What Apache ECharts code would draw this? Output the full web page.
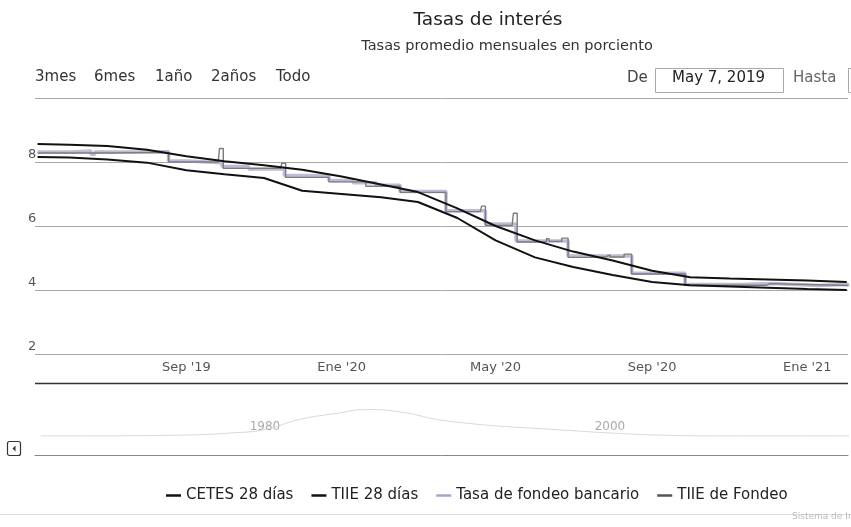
<!DOCTYPE html>
<html>
<head>
<meta charset="utf-8">
<script src="https://cdn.jsdelivr.net/npm/echarts@6/dist/echarts.min.js"></script>
<style>
html,body{margin:0;padding:0;background:#fff;}
#c{width:851px;height:527px;}
</style>
</head>
<body>
<div id="c"></div>
<script>
// ---- data ----
var seriesNames = ['CETES 28 días', 'TIIE 28 días', 'Tasa de fondeo bancario', 'TIIE de Fondeo'];

var cetesDates = ['2019-05-07','2019-06-01','2019-07-01','2019-08-01','2019-09-01','2019-10-01','2019-11-01','2019-12-01','2020-01-01','2020-02-01','2020-03-01','2020-04-01','2020-05-01','2020-06-01','2020-07-01','2020-08-01','2020-09-01','2020-10-01','2020-11-01','2020-12-01','2021-01-01','2021-02-01'];
var cetesValues = [8.16,8.14,8.08,7.98,7.74,7.62,7.50,7.10,7.00,6.90,6.75,6.25,5.55,5.02,4.72,4.47,4.25,4.15,4.11,4.07,4.03,4.00];

var tiie28Dates = ['2019-05-07','2019-06-01','2019-07-01','2019-08-01','2019-09-01','2019-10-01','2019-11-01','2019-12-01','2020-01-01','2020-02-01','2020-03-01','2020-04-01','2020-05-01','2020-06-01','2020-07-01','2020-08-01','2020-09-01','2020-10-01','2020-11-01','2020-12-01','2021-01-01','2021-02-01'];
var tiie28Values = [8.56,8.54,8.50,8.38,8.18,8.02,7.90,7.76,7.55,7.30,7.06,6.55,6.00,5.55,5.20,4.92,4.60,4.40,4.36,4.33,4.30,4.25];

var bancarioDates = ['2019-05-07','2019-06-03','2019-06-18','2019-06-21','2019-07-15','2019-08-18','2019-09-02','2019-09-29','2019-10-20','2019-11-17','2019-12-02','2019-12-22','2020-01-10','2020-01-28','2020-02-16','2020-03-23','2020-04-23','2020-05-17','2020-06-27','2020-08-16','2020-09-27','2020-11-10','2020-12-05','2021-01-10','2021-02-02'];
var bancarioValues = [8.31,8.34,8.24,8.31,8.32,8.03,7.98,7.86,7.78,7.58,7.56,7.42,7.35,7.27,7.08,6.48,6.06,5.53,5.06,4.52,4.17,4.20,4.14,4.18,4.12];

var tiieFondeoDates = ['2019-05-07','2019-07-01','2019-08-18','2019-09-26','2019-09-27','2019-09-30','2019-11-14','2019-11-15','2019-11-18','2019-12-22','2020-01-20','2020-02-16','2020-03-23','2020-04-19','2020-04-20','2020-04-23','2020-05-14','2020-05-15','2020-05-18','2020-06-08','2020-06-10','2020-06-12','2020-06-22','2020-06-27','2020-07-20','2020-07-27','2020-07-30','2020-08-10','2020-08-16','2020-09-27','2020-11-30','2020-12-03','2021-02-02'];
var tiieFondeoValues = [8.28,8.30,8.00,8.01,8.42,7.80,7.74,7.96,7.52,7.38,7.24,7.05,6.45,6.45,6.62,6.02,6.02,6.40,5.50,5.52,5.60,5.52,5.62,5.02,5.04,5.10,5.03,5.12,4.50,4.15,4.20,4.14,4.13];

var xTickDates = ['2019-09-01','2020-01-01','2020-05-01','2020-09-01','2021-01-01'];
var xTickLabels = ["Sep '19", "Ene '20", "May '20", "Sep '20", "Ene '21"];
var yTickValues = [2, 4, 6, 8, 10];

var navYears = [1967,1970,1975,1978,1980,1982,1984,1986,1988,1990,1992,1994,1996,1998,2000,2003,2006,2010,2014];
var navValues = [27,27,28,31,36,50,58,64,60,50,44,40,37,34,31,28,27,27,27];
var navTickValues = [1980, 2000];

var rangeButtons = ['3mes', '6mes', '1año', '2años', 'Todo'];

// ---- helpers ----
function ts(s){ var p = s.split('-'); return Date.UTC(+p[0], +p[1]-1, +p[2]); }
function pairs(d, v){ return d.map(function(x,i){ return [ts(x), v[i]]; }); }
var xTickTs = xTickDates.map(ts);

var FONT = 'DejaVu Sans';
var chart = echarts.init(document.getElementById('c'), null, {renderer:'canvas'});

var btnX = [35, 94, 155, 211, 276];
var graphics = rangeButtons.map(function(t,i){
  return {type:'text', left: btnX[i], top: 70, style:{text:t, font:'15px "'+FONT+'"', fill:'#333'}};
});
graphics = graphics.concat([
  {type:'text', left: 627, top: 71, style:{text:'De', font:'15px "'+FONT+'"', fill:'#444'}},
  {type:'rect', shape:{x:655.5, y:68.5, width:128, height:24}, style:{fill:'#fff', stroke:'#aaa', lineWidth:1}},
  {type:'text', left: 672, top: 71, style:{text:'May 7, 2019', font:'15px "'+FONT+'"', fill:'#222'}},
  {type:'text', left: 793, top: 71, style:{text:'Hasta', font:'15px "'+FONT+'"', fill:'#666'}},
  {type:'rect', shape:{x:848.5, y:68.5, width:40, height:24}, style:{fill:'#fff', stroke:'#aaa', lineWidth:1}},
  {type:'line', shape:{x1:35, y1:383.5, x2:848, y2:383.5}, style:{stroke:'#333', lineWidth:1.5}},
  {type:'rect', shape:{x:7.5, y:441.5, width:13, height:14, r:2}, style:{fill:'#fff', stroke:'#333', lineWidth:1.2}},
  {type:'polygon', shape:{points:[[15.5,445.5],[15.5,451.5],[12.5,448.5]]}, style:{fill:'#333'}},
  {type:'line', shape:{x1:0, y1:514.5, x2:851, y2:514.5}, style:{stroke:'#ddd', lineWidth:1}},
  {type:'text', left: 792, top: 512, style:{text:'Sistema de Información', font:'9px "'+FONT+'"', fill:'#bbb'}}
]);

var option = {
  animation: false,
  backgroundColor: '#fff',
  title: [
    {text: 'Tasas de interés', left: 483, top: 6, textAlign: 'center',
     textStyle:{fontFamily: FONT, fontSize: 18.5, fontWeight: 'normal', color:'#222'}},
    {text: 'Tasas promedio mensuales en porciento', left: 502, top: 34, textAlign: 'center',
     textStyle:{fontFamily: FONT, fontSize: 14.5, fontWeight: 'normal', color:'#333'}}
  ],
  legend: {
    data: seriesNames,
    left: 161, top: 483,
    icon: 'rect', itemWidth: 15, itemHeight: 2.5, itemGap: 18,
    textStyle:{fontFamily: FONT, fontSize: 15, color:'#222'}
  },
  grid: [
    {left: 35, right: 3, top: 98, height: 256},
    {left: 35, right: 3, top: 384, height: 71}
  ],
  xAxis: [
    {type:'value', gridIndex:0, min: ts('2019-05-05'), max: ts('2021-02-02'),
     axisLine:{show:false}, axisTick:{show:false}, splitLine:{show:false},
     axisLabel:{customValues: xTickTs, margin: 7, color:'#555', fontFamily: FONT, fontSize: 13,
       formatter: function(v){ var i = xTickTs.indexOf(v); return i >= 0 ? xTickLabels[i] : ''; }}},
    {type:'value', gridIndex:1, min: 1966.67, max: 2013.8,
     axisLine:{show:true, lineStyle:{color:'#888', width:1}}, axisTick:{show:false}, splitLine:{show:false},
     axisLabel:{customValues: navTickValues, inside: true, margin: 22, color:'#aaa', fontFamily: FONT, fontSize: 12,
       formatter: function(v){ return String(v); }}}
  ],
  yAxis: [
    {type:'value', gridIndex:0, min: 2, max: 10, interval: 2,
     axisLine:{show:false}, axisTick:{show:false},
     splitLine:{lineStyle:{color:'#a8a8a8', width:1}},
     axisLabel:{margin: 7, align:'left', verticalAlign:'bottom', padding:[0,0,1,0], color:'#555', fontFamily: FONT, fontSize: 13,
       formatter: function(v){ return v === 10 ? '' : String(v); }}},
    {type:'value', gridIndex:1, min: 0, max: 100, show: false}
  ],
  series: [
    {name: seriesNames[0], type:'line', data: pairs(cetesDates, cetesValues), showSymbol:false, color:'#111',
     lineStyle:{width:2, color:'#111'}, z: 4},
    {name: seriesNames[1], type:'line', data: pairs(tiie28Dates, tiie28Values), showSymbol:false, color:'#111',
     lineStyle:{width:2, color:'#111'}, z: 4},
    {name: seriesNames[2], type:'line', step:'end', data: pairs(bancarioDates, bancarioValues), showSymbol:false, color:'#a4a4cc',
     lineStyle:{width:3.5, color:'#bcbcd8'}, z: 2},
    {name: seriesNames[3], type:'line', step:'end', data: pairs(tiieFondeoDates, tiieFondeoValues), showSymbol:false, color:'#555',
     lineStyle:{width:1.4, color:'#7c7c7c'}, z: 3},
    {type:'line', xAxisIndex:1, yAxisIndex:1, data: navYears.map(function(y,i){return [y, navValues[i]];}),
     showSymbol:false, smooth:true, lineStyle:{width:1, color:'#d8d8d8'}, silent:true}
  ],
  graphic: graphics
};
chart.setOption(option);
</script>
</body>
</html>
